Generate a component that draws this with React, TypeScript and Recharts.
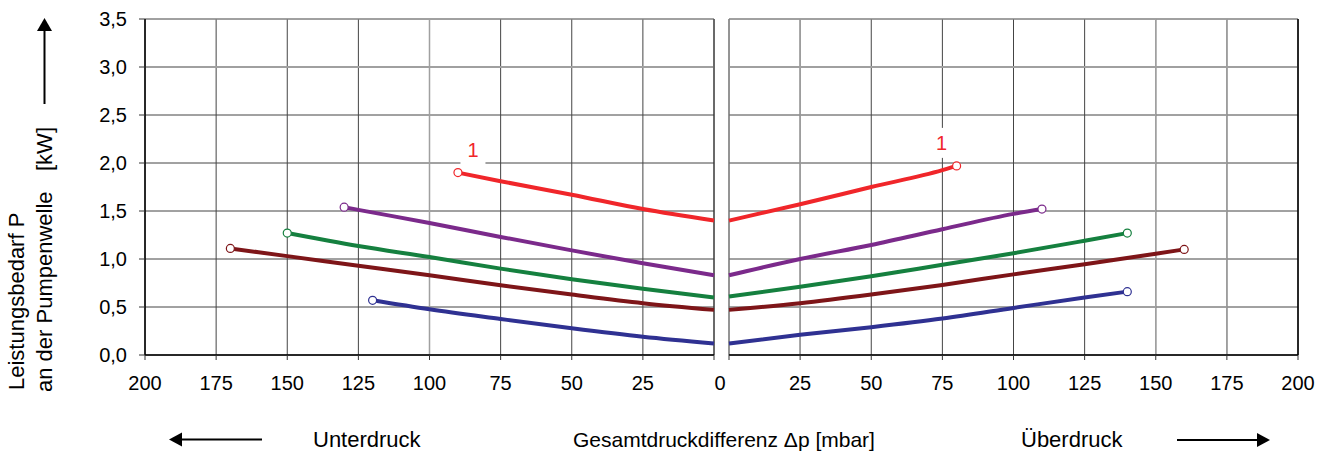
import { LineChart, Line, XAxis, YAxis, CartesianGrid, ReferenceLine } from 'recharts';

// Unterdruck (left half), dp in mbar, p in kW
const redVacuum = [{ dp: 90, p: 1.9 }, { dp: 75, p: 1.81 }, { dp: 50, p: 1.67 }, { dp: 25, p: 1.52 }, { dp: 0, p: 1.4 }];
const purpleVacuum = [{ dp: 130, p: 1.54 }, { dp: 125, p: 1.512 }, { dp: 100, p: 1.375 }, { dp: 75, p: 1.23 }, { dp: 50, p: 1.09 }, { dp: 25, p: 0.955 }, { dp: 0, p: 0.83 }];
const greenVacuum = [{ dp: 150, p: 1.27 }, { dp: 125, p: 1.135 }, { dp: 100, p: 1.02 }, { dp: 75, p: 0.9 }, { dp: 50, p: 0.79 }, { dp: 25, p: 0.69 }, { dp: 0, p: 0.6 }];
const maroonVacuum = [{ dp: 170, p: 1.11 }, { dp: 150, p: 1.03 }, { dp: 125, p: 0.93 }, { dp: 100, p: 0.83 }, { dp: 75, p: 0.726 }, { dp: 50, p: 0.63 }, { dp: 25, p: 0.54 }, { dp: 0, p: 0.47 }];
const blueVacuum = [{ dp: 120, p: 0.57 }, { dp: 100, p: 0.476 }, { dp: 75, p: 0.375 }, { dp: 50, p: 0.278 }, { dp: 25, p: 0.19 }, { dp: 0, p: 0.12 }];

// Überdruck (right half)
const redPressure = [{ dp: 0, p: 1.4 }, { dp: 25, p: 1.57 }, { dp: 50, p: 1.75 }, { dp: 75, p: 1.925 }, { dp: 80, p: 1.97 }];
const purplePressure = [{ dp: 0, p: 0.83 }, { dp: 25, p: 1.0 }, { dp: 50, p: 1.146 }, { dp: 75, p: 1.31 }, { dp: 100, p: 1.47 }, { dp: 110, p: 1.52 }];
const greenPressure = [{ dp: 0, p: 0.61 }, { dp: 25, p: 0.71 }, { dp: 50, p: 0.82 }, { dp: 75, p: 0.94 }, { dp: 100, p: 1.06 }, { dp: 125, p: 1.19 }, { dp: 140, p: 1.27 }];
const maroonPressure = [{ dp: 0, p: 0.47 }, { dp: 25, p: 0.54 }, { dp: 50, p: 0.63 }, { dp: 75, p: 0.73 }, { dp: 100, p: 0.84 }, { dp: 125, p: 0.945 }, { dp: 150, p: 1.055 }, { dp: 160, p: 1.1 }];
const bluePressure = [{ dp: 0, p: 0.12 }, { dp: 25, p: 0.21 }, { dp: 50, p: 0.29 }, { dp: 75, p: 0.38 }, { dp: 100, p: 0.49 }, { dp: 125, p: 0.6 }, { dp: 140, p: 0.66 }];

const xTicks = [0, 25, 50, 75, 100, 125, 150, 175, 200];
const yTicks = [0, 0.5, 1, 1.5, 2, 2.5, 3, 3.5];

const RED = '#f0262a';
const PURPLE = '#7b2a8b';
const GREEN = '#15803f';
const MAROON = '#7e1518';
const BLUE = '#2f3192';

const FONT = '"Liberation Sans", Arial, Helvetica, sans-serif';

const vacuumSeries = [
  { data: redVacuum, color: RED },
  { data: purpleVacuum, color: PURPLE },
  { data: greenVacuum, color: GREEN },
  { data: maroonVacuum, color: MAROON },
  { data: blueVacuum, color: BLUE },
];
const pressureSeries = [
  { data: redPressure, color: RED },
  { data: purplePressure, color: PURPLE },
  { data: greenPressure, color: GREEN },
  { data: maroonPressure, color: MAROON },
  { data: bluePressure, color: BLUE },
];

// open circle only at the outer end of each curve
const endDot = (color: string, endIndex: number) => (props: any) => {
  if (props.index !== endIndex) return <g key={`d${props.index}`} />;
  return <circle key={`d${props.index}`} cx={props.cx} cy={props.cy} r={4} fill="#fff" stroke={color} strokeWidth={1.2} />;
};

// the red curve's "1" with its white patch over the grid
const curveLabel = (endIndex: number, dx: number, dy: number, w: number, h: number) => (props: any) => {
  if (props.index !== endIndex) return <g key={`l${props.index}`} />;
  const cx = props.x + dx;
  const cy = props.y + dy;
  return (
    <g key={`l${props.index}`}>
      <rect x={cx - w / 2} y={cy - h / 2} width={w} height={h} fill="#fff" />
      <text x={cx} y={cy} dy="0.36em" textAnchor="middle" fill={RED} fontSize={20} fontFamily={FONT}>1</text>
    </g>
  );
};

const xTick = (side: 'left' | 'right') => (props: any) => {
  const { x, y, payload } = props;
  if (side === 'right' && payload.value === 0) return <g />;
  const dx = side === 'left' && payload.value === 0 ? 6 : 0;
  return (
    <text x={x + dx} y={y} dy="0.71em" textAnchor="middle" fill="#000" fontSize={20} fontFamily={FONT}>
      {payload.value}
    </text>
  );
};

const yTick = (props: any) => {
  const { x, y, payload } = props;
  return (
    <text x={x} y={y} dy="0.355em" textAnchor="end" fill="#000" fontSize={20} fontFamily={FONT}>
      {payload.value.toFixed(1).replace('.', ',')}
    </text>
  );
};

const GRID = '#444';
const LIGHT = '#a0a0a0';

export default function App() {
  return (
    <div style={{ position: 'absolute', left: 0, top: 0, width: 1329, height: 452, background: '#fff', fontFamily: FONT }}>
      <div style={{ position: 'absolute', left: 0, top: 0 }}>
        <LineChart width={740} height={400} margin={{ top: 19, right: 26, bottom: 0, left: 0 }}>
          <CartesianGrid stroke={GRID} strokeWidth={1} />
          <XAxis
            type="number"
            dataKey="dp"
            domain={[0, 200]}
            ticks={xTicks}
            reversed
            height={45}
            allowDuplicatedCategory={false}
            axisLine={{ stroke: '#000', strokeWidth: 1.5 }}
            tickLine={{ stroke: '#333' }}
            tickSize={5}
            tickMargin={16}
            tick={xTick('left')}
          />
          <YAxis
            type="number"
            domain={[0, 3.5]}
            ticks={yTicks}
            width={145}
            axisLine={{ stroke: '#000', strokeWidth: 1.5 }}
            tickLine={{ stroke: '#333' }}
            tickSize={6}
            tickMargin={12}
            tick={yTick}
          />
          <ReferenceLine y={3} stroke={LIGHT} strokeWidth={2} />
          <ReferenceLine y={3.5} stroke={LIGHT} strokeWidth={1} />
          <ReferenceLine x={100} stroke={LIGHT} strokeWidth={1.5} />
          <ReferenceLine x={0} stroke="#333" strokeWidth={1} />
          {vacuumSeries.map((s, i) => (
            <Line
              key={i}
              data={s.data}
              dataKey="p"
              type="monotone"
              stroke={s.color}
              strokeWidth={4}
              dot={endDot(s.color, 0)}
              activeDot={false}
              label={i === 0 ? curveLabel(0, 15, -23, 25, 29) : undefined}
              isAnimationActive={false}
            />
          ))}
        </LineChart>
      </div>

      <div style={{ position: 'absolute', left: 720, top: 0 }}>
        <LineChart width={609} height={400} margin={{ top: 19, right: 31, bottom: 0, left: 9 }}>
          <CartesianGrid stroke={GRID} strokeWidth={1} />
          <XAxis
            type="number"
            dataKey="dp"
            domain={[0, 200]}
            ticks={xTicks}
            height={45}
            allowDuplicatedCategory={false}
            axisLine={{ stroke: '#000', strokeWidth: 1.5 }}
            tickLine={{ stroke: '#333' }}
            tickSize={5}
            tickMargin={16}
            tick={xTick('right')}
          />
          <YAxis type="number" domain={[0, 3.5]} ticks={yTicks} hide />
          <ReferenceLine y={3} stroke={LIGHT} strokeWidth={2} />
          <ReferenceLine y={3.5} stroke={LIGHT} strokeWidth={1} />
          <ReferenceLine x={0} stroke="#888" strokeWidth={1} />
          <ReferenceLine x={25} stroke={LIGHT} strokeWidth={1.5} />
          <ReferenceLine x={150} stroke={LIGHT} strokeWidth={1.5} />
          <ReferenceLine x={175} stroke={LIGHT} strokeWidth={1.5} />
          <ReferenceLine x={200} stroke="#000" strokeWidth={1.5} />
          {pressureSeries.map((s, i) => (
            <Line
              key={i}
              data={s.data}
              dataKey="p"
              type="monotone"
              stroke={s.color}
              strokeWidth={4}
              dot={endDot(s.color, s.data.length - 1)}
              activeDot={false}
              label={i === 0 ? curveLabel(s.data.length - 1, -15, -23, 18, 30) : undefined}
              isAnimationActive={false}
            />
          ))}
        </LineChart>
      </div>

      <svg width={1329} height={452} style={{ position: 'absolute', left: 0, top: 0, pointerEvents: 'none' }}>
        <g fontFamily={FONT} fontSize={22} fill="#000">
          <text transform="translate(24,390) rotate(-90)">Leistungsbedarf P</text>
          <text transform="translate(52,392) rotate(-90)">an der Pumpenwelle</text>
          <text transform="translate(52,171) rotate(-90)">[kW]</text>
          <text x={313} y={447}>Unterdruck</text>
          <text x={573} y={447} fontSize={21}>Gesamtdruckdifferenz Δp [mbar]</text>
          <text x={1021} y={447}>Überdruck</text>
        </g>
        {/* y arrow */}
        <line x1={44.5} y1={104} x2={44.5} y2={28} stroke="#000" strokeWidth={2} />
        <polygon points="44.5,18 37,31 52,31" fill="#000" />
        {/* left arrow */}
        <line x1={262} y1={439.5} x2={180} y2={439.5} stroke="#000" strokeWidth={2} />
        <polygon points="169,439.5 182,432.5 182,446.5" fill="#000" />
        {/* right arrow */}
        <line x1={1177} y1={440} x2={1259} y2={440} stroke="#000" strokeWidth={2} />
        <polygon points="1270,440 1257,433 1257,447" fill="#000" />
      </svg>
    </div>
  );
}
